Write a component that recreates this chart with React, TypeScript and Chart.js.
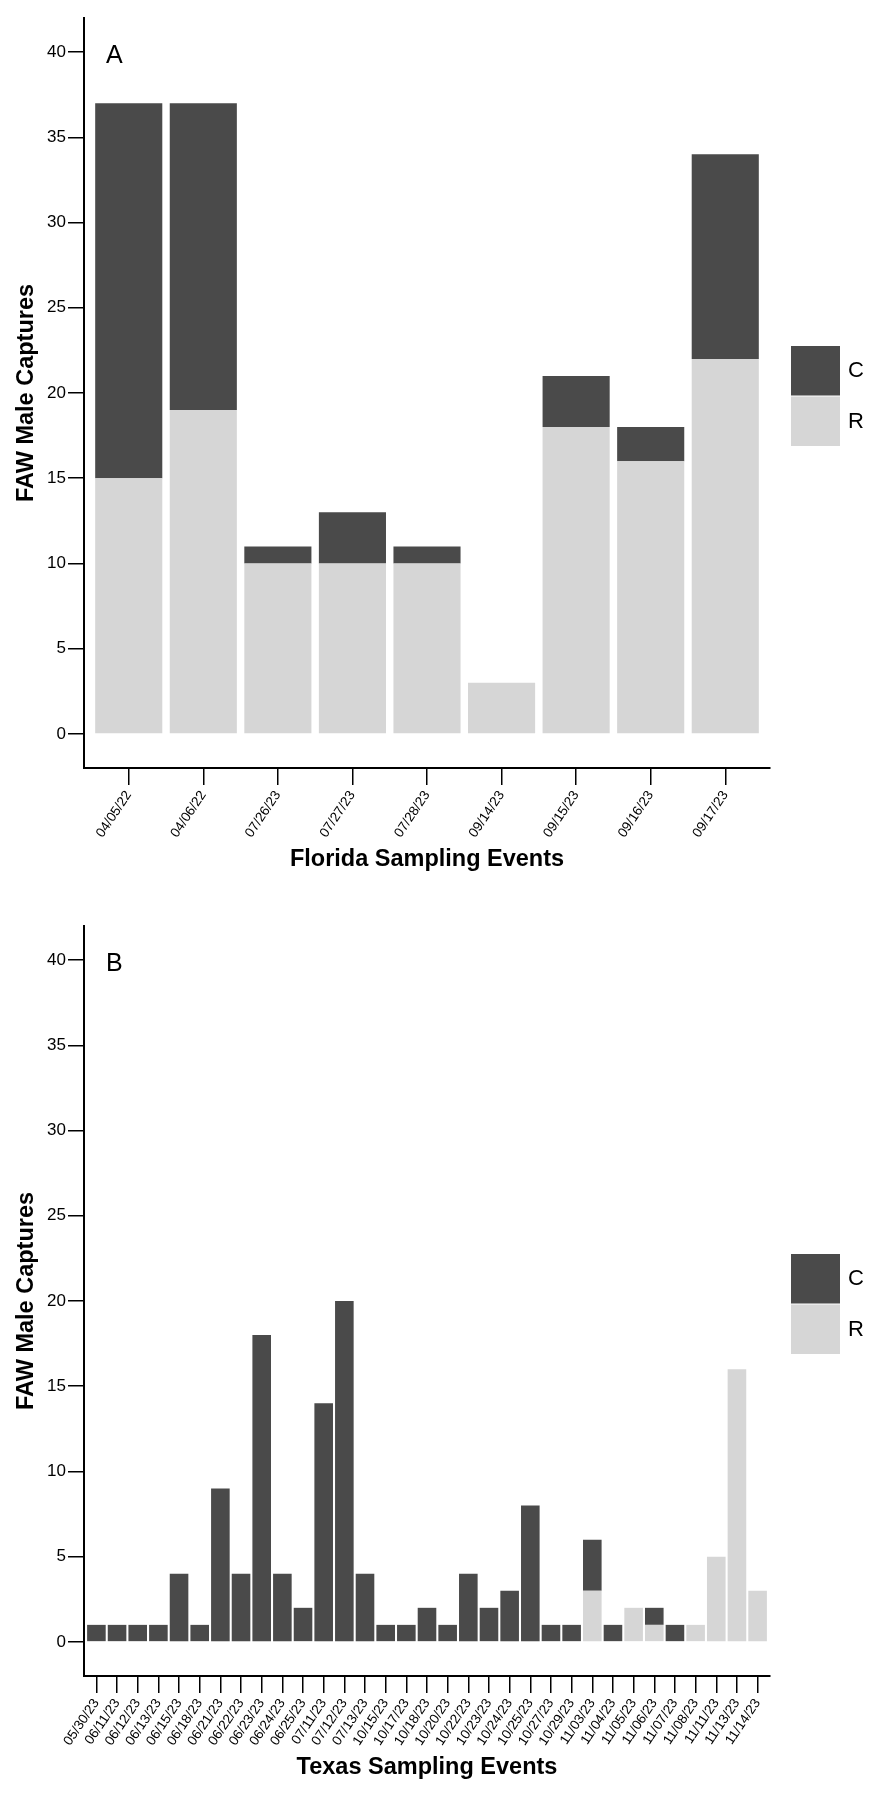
import { Chart, registerables } from "chart.js";
import { useEffect, useRef } from "react";

Chart.register(...registerables);

// panel A
const floridaDates = ["04/05/22", "04/06/22", "07/26/23", "07/27/23", "07/28/23", "09/14/23", "09/15/23", "09/16/23", "09/17/23"];
const floridaR = [15, 19, 10, 10, 10, 3, 18, 16, 22];
const floridaC = [22, 18, 1, 3, 1, 0, 3, 2, 12];

// panel B
const texasDates = [
  "05/30/23", "06/11/23", "06/12/23", "06/13/23", "06/15/23", "06/18/23", "06/21/23", "06/22/23", "06/23/23",
  "06/24/23", "06/25/23", "07/11/23", "07/12/23", "07/13/23", "10/15/23", "10/17/23", "10/18/23", "10/20/23",
  "10/22/23", "10/23/23", "10/24/23", "10/25/23", "10/27/23", "10/29/23", "11/03/23", "11/04/23", "11/05/23",
  "11/06/23", "11/07/23", "11/08/23", "11/11/23", "11/13/23", "11/14/23",
];
const texasR = [0, 0, 0, 0, 0, 0, 0, 0, 0, 0, 0, 0, 0, 0, 0, 0, 0, 0, 0, 0, 0, 0, 0, 0, 3, 0, 2, 1, 0, 1, 5, 16, 3];
const texasC = [1, 1, 1, 1, 4, 1, 9, 4, 18, 4, 2, 14, 20, 4, 1, 1, 2, 1, 4, 2, 3, 8, 1, 1, 3, 1, 0, 1, 1, 0, 0, 0, 0];

const yTicks = [0, 5, 10, 15, 20, 25, 30, 35, 40];

const FONT = "'Liberation Sans', Arial, Helvetica, sans-serif";
const C_COLOR = "#4a4a4a";
const R_COLOR = "#d6d6d6";

// panel letter + C/R legend stacked on the right
const panelDecor = {
  id: "panelDecor",
  afterDraw(chart, _args, opts) {
    const { ctx, chartArea } = chart;
    ctx.save();
    ctx.fillStyle = "#000";
    ctx.font = `25px ${FONT}`;
    ctx.textBaseline = "alphabetic";
    ctx.textAlign = "left";
    ctx.fillText(opts.letter, chartArea.left + 22, chartArea.top + 45);

    const items = [...chart.data.datasets].reverse();
    const bw = 49;
    const bh = 50.5;
    const bx = chartArea.right + 21;
    let by = (chartArea.top + chartArea.bottom) / 2 + 3.5 - (items.length * bh) / 2;
    items.forEach((ds) => {
      ctx.fillStyle = ds.backgroundColor;
      ctx.fillRect(bx, by, bw, bh - 1);
      ctx.fillStyle = "#000";
      ctx.font = `22px ${FONT}`;
      ctx.textBaseline = "middle";
      ctx.fillText(ds.label, bx + bw + 8, by + bh / 2);
      by += bh;
    });
    ctx.restore();
  },
};

const Panel = ({ letter, dates, r, c, xTitle, height }) => {
  const chartRef = useRef(null);
  const chartInstance = useRef(null);

  useEffect(() => {
    if (!chartRef.current) return;
    if (chartInstance.current) chartInstance.current.destroy();

    const n = dates.length;
    chartInstance.current = new Chart(chartRef.current.getContext("2d"), {
      type: "bar",
      data: {
        datasets: [
          {
            label: "R",
            data: r.map((v, i) => ({ x: i, y: v })),
            backgroundColor: R_COLOR,
            borderWidth: 0,
            barPercentage: 0.9,
            categoryPercentage: 1,
          },
          {
            label: "C",
            data: c.map((v, i) => ({ x: i, y: v })),
            backgroundColor: C_COLOR,
            borderWidth: 0,
            barPercentage: 0.9,
            categoryPercentage: 1,
          },
        ],
      },
      options: {
        responsive: false,
        animation: false,
        layout: { padding: { top: 18, left: 0, right: 112, bottom: height - 874.1 } },
        plugins: {
          legend: { display: false },
          tooltip: { enabled: false },
          panelDecor: { letter },
        },
        scales: {
          x: {
            type: "linear",
            min: -0.6,
            max: n - 0.4,
            offset: false,
            stacked: true,
            afterBuildTicks: (scale) => {
              scale.ticks = dates.map((_, i) => ({ value: i }));
            },
            afterFit: (scale) => {
              scale.height = 106.1;
            },
            ticks: {
              autoSkip: false,
              minRotation: 56,
              maxRotation: 56,
              padding: 3,
              color: "#000",
              font: { family: FONT, size: 13.5 },
              callback: (v) => dates[v],
            },
            grid: { display: true, offset: false, drawOnChartArea: false, tickLength: 17, color: "#000", lineWidth: 1.5 },
            border: { display: true, color: "#000", width: 2 },
            title: {
              display: true,
              text: xTitle,
              color: "#000",
              font: { family: FONT, size: 23.5, weight: "bold" },
              padding: { top: 0, bottom: 0 },
            },
          },
          y: {
            type: "linear",
            min: -2,
            max: 42,
            stacked: true,
            afterBuildTicks: (scale) => {
              scale.ticks = yTicks.map((v) => ({ value: v }));
            },
            afterFit: (scale) => {
              scale.width = 84;
            },
            ticks: {
              padding: 2,
              color: "#000",
              font: { family: FONT, size: 17 },
            },
            grid: { display: true, drawOnChartArea: false, tickLength: 16, color: "#000", lineWidth: 1.5 },
            border: { display: true, color: "#000", width: 2 },
            title: {
              display: true,
              text: "FAW Male Captures",
              color: "#000",
              font: { family: FONT, size: 23.5, weight: "bold" },
              padding: { top: 12, bottom: 0 },
            },
          },
        },
      },
      plugins: [panelDecor],
    });

    return () => {
      if (chartInstance.current) {
        chartInstance.current.destroy();
        chartInstance.current = null;
      }
    };
  }, [letter, dates, r, c, xTitle, height]);

  return (
    <div style={{ width: "882px", height: `${height}px` }}>
      <canvas ref={chartRef} width={882} height={height} style={{ display: "block" }}></canvas>
    </div>
  );
};

export default function App() {
  return (
    <div style={{ position: "absolute", top: 0, left: 0, width: "882px", background: "#fff" }}>
      <Panel letter="A" dates={floridaDates} r={floridaR} c={floridaC} xTitle="Florida Sampling Events" height={908} />
      <Panel letter="B" dates={texasDates} r={texasR} c={texasC} xTitle="Texas Sampling Events" height={893} />
    </div>
  );
}
